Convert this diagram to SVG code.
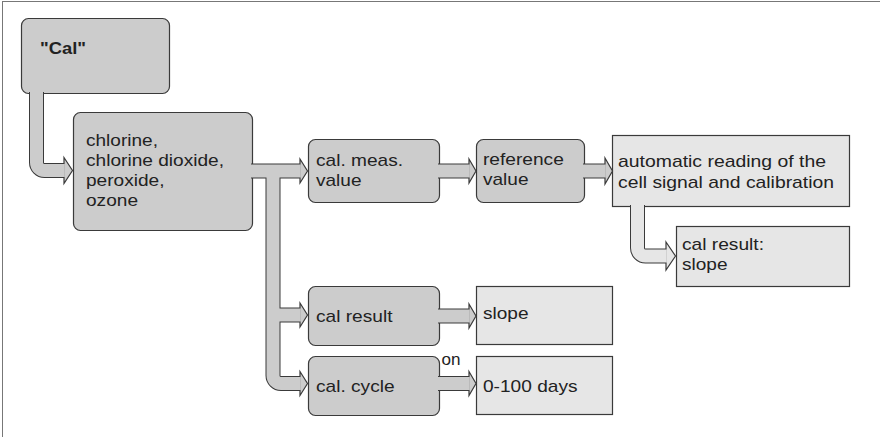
<svg xmlns="http://www.w3.org/2000/svg" width="880" height="437" viewBox="0 0 880 437">
<style>
.frame{fill:none;stroke:#777;stroke-width:1}
.rb{fill:#cccccc;stroke:#3a3a3a;stroke-width:1.2}
.lb{fill:#e6e6e6;stroke:#3a3a3a;stroke-width:1.2}
.t{font-family:"Liberation Sans",Arial,sans-serif;font-size:17px;fill:#222}
.tb{font-family:"Liberation Sans",Arial,sans-serif;font-size:16px;font-weight:bold;fill:#222}
.bo{fill:none;stroke:#3a3a3a;stroke-width:15}
.bi{fill:none;stroke:#cccccc;stroke-width:13}
.bil{fill:none;stroke:#e6e6e6;stroke-width:13}
.hd{fill:#cccccc;stroke:#3a3a3a;stroke-width:1.2;stroke-linejoin:miter}
.hdl{fill:#e6e6e6;stroke:#3a3a3a;stroke-width:1.2;stroke-linejoin:miter}
</style>
<rect class="frame" x="2.5" y="1.5" width="1000" height="600"/>
<g id="n-cal"><rect class="rb" x="21.5" y="18.5" width="148" height="75" rx="7"/><text class="tb" x="40" y="54" textLength="46" lengthAdjust="spacingAndGlyphs">"Cal"</text></g>
<g id="n-chlorine"><rect class="rb" x="73.5" y="112.5" width="179" height="118" rx="7"/>
<text class="t" x="86" y="146" textLength="72" lengthAdjust="spacingAndGlyphs">chlorine,</text>
<text class="t" x="86" y="166" textLength="138" lengthAdjust="spacingAndGlyphs">chlorine dioxide,</text>
<text class="t" x="86" y="186" textLength="78.5" lengthAdjust="spacingAndGlyphs">peroxide,</text>
<text class="t" x="86" y="206" textLength="52" lengthAdjust="spacingAndGlyphs">ozone</text></g>
<g id="n-meas"><rect class="rb" x="308.5" y="139.5" width="131" height="63" rx="7"/>
<text class="t" x="316" y="165.5" textLength="87" lengthAdjust="spacingAndGlyphs">cal. meas.</text>
<text class="t" x="316" y="185.5" textLength="45.5" lengthAdjust="spacingAndGlyphs">value</text></g>
<g id="n-ref"><rect class="rb" x="476.5" y="139.5" width="108" height="63" rx="7"/>
<text class="t" x="483" y="165" textLength="80.8" lengthAdjust="spacingAndGlyphs">reference</text>
<text class="t" x="483" y="185" textLength="45.5" lengthAdjust="spacingAndGlyphs">value</text></g>
<g id="n-auto"><rect class="lb" x="612.5" y="135.5" width="237" height="71"/>
<text class="t" x="618" y="166.5" textLength="208" lengthAdjust="spacingAndGlyphs">automatic reading of the</text>
<text class="t" x="618" y="188" textLength="216" lengthAdjust="spacingAndGlyphs">cell signal and calibration</text></g>
<g id="n-calres-slope"><rect class="lb" x="676.5" y="226.5" width="173" height="60"/>
<text class="t" x="682" y="250" textLength="82" lengthAdjust="spacingAndGlyphs">cal result:</text>
<text class="t" x="682" y="270" textLength="45.5" lengthAdjust="spacingAndGlyphs">slope</text></g>
<g id="n-calres"><rect class="rb" x="308.5" y="286.5" width="131" height="59" rx="7"/>
<text class="t" x="316" y="322" textLength="76.5" lengthAdjust="spacingAndGlyphs">cal result</text></g>
<g id="n-slope"><rect class="lb" x="476.5" y="286.5" width="136" height="58"/>
<text class="t" x="483" y="319" textLength="45.5" lengthAdjust="spacingAndGlyphs">slope</text></g>
<g id="n-cycle"><rect class="rb" x="308.5" y="356.5" width="131" height="59" rx="7"/>
<text class="t" x="316" y="391.5" textLength="78.6" lengthAdjust="spacingAndGlyphs">cal. cycle</text></g>
<g id="n-days"><rect class="lb" x="476.5" y="356.5" width="136" height="58"/>
<text class="t" x="483" y="391.5" textLength="94.5" lengthAdjust="spacingAndGlyphs">0-100 days</text></g>
<g id="connectors">
<path class="bo" d="M36.5,92 V162.5 A8,8 0 0 0 44.5,170.5 H64"/>
<path class="bo" d="M251,171 H300"/>
<path class="bo" d="M273,171 V375.5 A8,8 0 0 0 281,383.5 H300 M273,315 H300"/>
<path class="bo" d="M438,171 H469"/>
<path class="bo" d="M583,171 H605"/>
<path class="bo" d="M637.5,205 V248 A8,8 0 0 0 645.5,256 H666"/>
<path class="bo" d="M438,316 H469"/>
<path class="bo" d="M438,383.5 H469"/>
<polygon class="hd" points="64,157.5 72.5,170.5 64,183.5"/>
<polygon class="hd" points="300,159 307.5,171 300,183"/>
<polygon class="hd" points="300,303 307.5,315 300,327"/>
<polygon class="hd" points="300,371.5 307.5,383.5 300,395.5"/>
<polygon class="hd" points="469,159 476,171 469,183"/>
<polygon class="hd" points="605,158 612.5,171 605,184"/>
<polygon class="hdl" points="666,242 675.5,256 666,270"/>
<polygon class="hd" points="469,304 476,316 469,328"/>
<polygon class="hd" points="469,371.5 476,383.5 469,395.5"/>
<path class="bi" d="M36.5,92 V162.5 A8,8 0 0 0 44.5,170.5 H64.8"/>
<path class="bi" d="M251,171 H300.8"/>
<path class="bi" d="M273,171 V375.5 A8,8 0 0 0 281,383.5 H300.8 M273,315 H300.8"/>
<path class="bi" d="M438,171 H469.8"/>
<path class="bi" d="M583,171 H605.8"/>
<path class="bil" d="M637.5,205 V248 A8,8 0 0 0 645.5,256 H666.8"/>
<path class="bi" d="M438,316 H469.8"/>
<path class="bi" d="M438,383.5 H469.8"/>
</g>
<text class="t" x="441.5" y="364.5" textLength="19" lengthAdjust="spacingAndGlyphs">on</text>
</svg>
